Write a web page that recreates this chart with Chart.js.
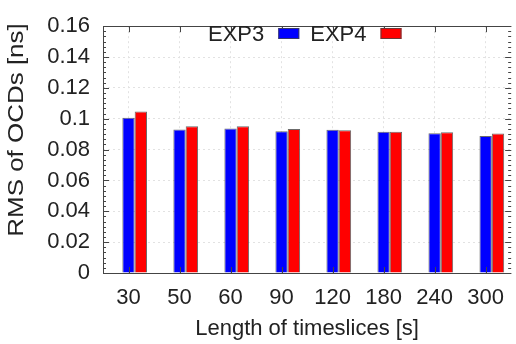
<!DOCTYPE html>
<html>
<head>
<meta charset="utf-8">
<script src="https://cdn.jsdelivr.net/npm/chart.js@4"></script>
<style>
  html, body { margin: 0; padding: 0; background: #fff; }
  #wrap { width: 516px; height: 344px; }
</style>
</head>
<body>
<div id="wrap"><canvas id="rms"></canvas></div>
<script>
// RMS of OCDs per timeslice length, two experiments
const timeslices = ['30', '50', '60', '90', '120', '180', '240', '300'];
const exp3 = [0.1006, 0.0931, 0.0937, 0.0919, 0.0929, 0.0915, 0.0906, 0.0888];
const exp4 = [0.1047, 0.0952, 0.0952, 0.0934, 0.0925, 0.0915, 0.0913, 0.0905];
const yMax = 0.16;
const yStep = 0.02;
const yTitle = 'RMS of OCDs [ns]';

const FONT = 'Liberation Sans, Arial, Helvetica, sans-serif';
const INK = '#222';

// frame, inward ticks and minor ticks (gnuplot style box)
const framePlugin = {
    id: 'frame',
    afterDatasetsDraw(chart) {
        const { ctx, chartArea: a, scales } = chart;
        const y = scales.y, x = scales.x;
        ctx.save();
        ctx.strokeStyle = '#444';
        ctx.lineWidth = 1;
        ctx.beginPath();
        // major y ticks, both sides
        for (let v = 0; v <= yMax + 1e-9; v += yStep) {
            const py = Math.round(y.getPixelForValue(v)) + 0.5;
            ctx.moveTo(a.left, py); ctx.lineTo(a.left + 6, py);
            ctx.moveTo(a.right, py); ctx.lineTo(a.right - 6, py);
        }
        // minor y ticks
        const minor = yStep / 6;
        for (let v = 0; v <= yMax + 1e-9; v += minor) {
            const py = Math.round(y.getPixelForValue(v)) + 0.5;
            ctx.moveTo(a.left, py); ctx.lineTo(a.left + 3, py);
            ctx.moveTo(a.right, py); ctx.lineTo(a.right - 3, py);
        }
        // x ticks, top and bottom
        timeslices.forEach((_, i) => {
            const px = Math.round(x.getPixelForTick(i)) + 0.5;
            ctx.moveTo(px, a.top); ctx.lineTo(px, a.top + 6);
            ctx.moveTo(px, a.bottom); ctx.lineTo(px, a.bottom - 6);
        });
        // box: left, top and bottom edges (right edge falls off the canvas)
        const l = Math.round(a.left) + 0.5, t = Math.round(a.top) + 0.5;
        const b = Math.round(a.bottom) + 0.5;
        ctx.moveTo(a.right, t); ctx.lineTo(l, t); ctx.lineTo(l, b); ctx.lineTo(a.right, b);
        ctx.stroke();
        ctx.restore();
    }
};

// key inside the plot: label first, colour sample after it
const keyPlugin = {
    id: 'key',
    afterDraw(chart) {
        const { ctx, chartArea: a } = chart;
        ctx.save();
        ctx.font = '22px ' + FONT;
        ctx.textBaseline = 'alphabetic';
        let cx = a.left + 105;
        const base = 41;
        chart.data.datasets.forEach(ds => {
            if (!ds.label) return;
            ctx.fillStyle = INK;
            ctx.fillText(ds.label, cx, base);
            cx += ctx.measureText(ds.label).width + 14;
            ctx.fillStyle = ds.backgroundColor;
            ctx.fillRect(cx, 28, 21, 11);
            ctx.strokeStyle = 'rgba(70,70,70,0.8)';
            ctx.lineWidth = 1;
            ctx.strokeRect(cx + 0.5, 28.5, 20, 10);
            cx += 21 + 11;
        });
        ctx.restore();
    }
};

// rotated y-axis label, a little stretched along its length
const yTitlePlugin = {
    id: 'yTitle',
    afterDraw(chart) {
        const { ctx } = chart;
        ctx.save();
        ctx.translate(17, 130);
        ctx.rotate(-Math.PI / 2);
        ctx.scale(1.18, 1);
        ctx.font = '22px ' + FONT;
        ctx.fillStyle = INK;
        ctx.textAlign = 'center';
        ctx.textBaseline = 'middle';
        ctx.fillText(yTitle, 0, 0);
        ctx.restore();
    }
};

new Chart(document.getElementById('rms'), {
    type: 'bar',
    data: {
        labels: timeslices,
        datasets: [
            // empty slot so each pair sits right of its tick
            { label: '', data: timeslices.map(() => null) },
            {
                label: 'EXP3',
                data: exp3,
                backgroundColor: '#0000ff',
                borderColor: 'rgba(70,70,70,0.8)',
                borderWidth: 1,
            },
            {
                label: 'EXP4',
                data: exp4,
                backgroundColor: '#ff0000',
                borderColor: 'rgba(70,70,70,0.8)',
                borderWidth: 1,
            }
        ]
    },
    options: {
        responsive: true,
        maintainAspectRatio: false,
        animation: false,
        layout: { padding: { top: 15, right: 0, bottom: 0, left: 0 } },
        datasets: {
            bar: { categoryPercentage: 0.726, barPercentage: 1 }
        },
        plugins: {
            legend: { display: false },
            tooltip: { enabled: false }
        },
        scales: {
            x: {
                offset: true,
                grid: {
                    offset: false,
                    drawTicks: false,
                    color: '#e2e2e2',
                    lineWidth: 1,
                },
                border: { display: false, dash: [2, 3] },
                ticks: {
                    color: INK,
                    padding: 12,
                    font: { family: FONT, size: 22 }
                },
                title: {
                    display: true,
                    text: 'Length of timeslices [s]',
                    color: INK,
                    font: { family: FONT, size: 22 },
                    padding: { top: 0, bottom: 2 }
                },
                afterFit(scale) { scale.height = 71; }
            },
            y: {
                min: 0,
                max: yMax,
                grid: {
                    drawTicks: false,
                    color: '#e2e2e2',
                    lineWidth: 1,
                },
                border: { display: false, dash: [2, 3] },
                ticks: {
                    stepSize: yStep,
                    color: INK,
                    padding: 13,
                    font: { family: FONT, size: 22 },
                    callback: v => String(Number(v.toFixed(2)))
                },
                afterFit(scale) { scale.width = 103; }
            }
        }
    },
    plugins: [framePlugin, keyPlugin, yTitlePlugin]
});
</script>
</body>
</html>
